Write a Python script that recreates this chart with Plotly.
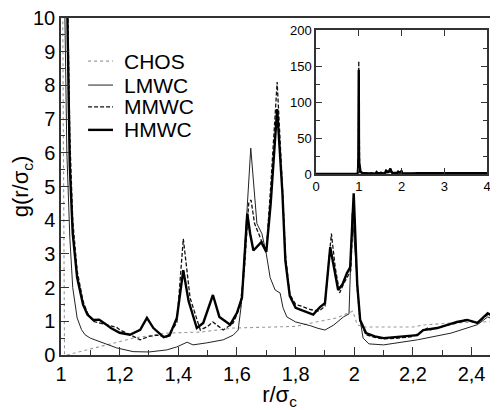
import plotly.graph_objects as go

# ── data ─────────────────────────────────────────────────────────────────────
hmwc_r = [0.0, 0.97, 0.99, 1.0, 1.005, 1.01, 1.02, 1.03, 1.04, 1.055, 1.075, 1.09,
          1.11, 1.13, 1.15, 1.17, 1.2, 1.235, 1.27, 1.293, 1.315, 1.35, 1.37, 1.395,
          1.417, 1.435, 1.463, 1.485, 1.518, 1.54, 1.577, 1.6, 1.617, 1.635, 1.645,
          1.656, 1.683, 1.70, 1.715, 1.737, 1.755, 1.765, 1.78, 1.8, 1.82, 1.86,
          1.883, 1.9, 1.918, 1.935, 1.945, 1.96, 1.975, 1.986, 1.998, 2.01, 2.02,
          2.04, 2.07, 2.1, 2.15, 2.215, 2.235, 2.283, 2.35, 2.385, 2.42, 2.455,
          2.5, 2.8, 3.2, 3.6, 4.0]
hmwc_g = [0, 0, 2, 145, 30, 16, 11, 5.6, 3.6, 2.3, 1.5, 1.2,
          1.04, 1.05, 0.93, 0.8, 0.66, 0.6, 0.75, 1.1, 0.8, 0.53, 0.58, 1.1,
          2.52, 1.6, 0.8, 0.95, 1.78, 1.13, 0.9, 1.25, 1.7, 4.2, 3.6,
          3.1, 3.35, 3.06, 4.5, 7.3, 4.8, 2.8, 1.75, 1.4, 1.33, 1.2,
          1.42, 1.54, 3.2, 2.43, 1.93, 2.1, 2.43, 2.6, 4.8, 2.1, 1.04,
          0.65, 0.55, 0.5, 0.53, 0.59, 0.74, 0.8, 0.98, 1.04, 0.95, 1.24,
          1.0, 1.0, 1.0, 1.0, 1.0]

mmwc_r = [0.0, 0.97, 0.99, 1.0, 1.005, 1.01, 1.02, 1.03, 1.04, 1.055, 1.075, 1.09,
          1.11, 1.13, 1.15, 1.17, 1.19, 1.2, 1.23, 1.27, 1.3, 1.327, 1.36, 1.395,
          1.417, 1.44, 1.475, 1.5, 1.518, 1.553, 1.587, 1.61, 1.625, 1.64, 1.648,
          1.66, 1.683, 1.70, 1.715, 1.737, 1.755, 1.765, 1.78, 1.8, 1.82, 1.85,
          1.88, 1.9, 1.91, 1.922, 1.935, 1.95, 1.963, 1.977, 1.988, 1.998, 2.01,
          2.02, 2.04, 2.07, 2.1, 2.15, 2.2, 2.25, 2.26, 2.3, 2.35, 2.38, 2.42,
          2.455, 2.5, 2.8, 3.2, 3.6, 4.0]
mmwc_g = [0, 0, 0, 157, 35, 18, 12, 6.5, 4.0, 2.5, 1.6, 1.25,
          1.0, 0.95, 0.9, 0.85, 0.82, 0.75, 0.62, 0.45, 0.55, 0.59, 0.53, 0.95,
          3.45, 1.7, 0.74, 0.85, 0.98, 0.74, 0.95, 1.42, 2.5, 4.5, 4.6,
          3.9, 3.4, 3.1, 5.0, 8.1, 5.0, 3.0, 1.8, 1.5, 1.45, 1.35,
          1.3, 1.45, 2.5, 3.6, 2.6, 1.84, 2.1, 2.3, 2.5, 4.7, 2.0,
          1.0, 0.6, 0.52, 0.48, 0.5, 0.55, 0.8, 0.75, 0.85, 0.95, 1.05, 0.95,
          1.2, 1.0, 1.0, 1.0, 1.0, 1.0]

lmwc_r = [0.0, 0.96, 0.98, 0.99, 1.0, 1.005, 1.01, 1.02, 1.03, 1.04, 1.055, 1.07,
          1.082, 1.1, 1.133, 1.19, 1.246, 1.3, 1.36, 1.395, 1.43, 1.45, 1.497,
          1.553, 1.587, 1.604, 1.615, 1.628, 1.647, 1.668, 1.685, 1.70, 1.713,
          1.73, 1.747, 1.757, 1.77, 1.8, 1.815, 1.85, 1.873, 1.9, 1.93, 1.963,
          1.982, 1.993, 2.01, 2.02, 2.03, 2.05, 2.1, 2.215, 2.33, 2.42, 2.455,
          2.49, 2.8, 3.2, 3.6, 4.0]
lmwc_g = [0, 0, 20, 5, 57, 20, 12, 6, 3.5, 2.0, 1.1, 0.75,
          0.6, 0.5, 0.39, 0.21, 0.1, 0.09, 0.15, 0.24, 0.38, 0.3, 0.36,
          0.45, 0.59, 0.74, 1.5, 3.5, 6.14, 3.9, 3.6, 3.0, 2.3,
          1.93, 1.84, 1.4, 1.13, 0.98, 0.95, 0.87, 0.8, 0.74, 0.89, 1.13,
          1.22, 4.2, 2.2, 1.04, 0.5, 0.33, 0.3, 0.45, 0.65, 0.9, 1.13,
          0.98, 1.0, 1.0, 1.0, 1.0]

chos_r = [0.0, 0.96, 1.0, 1.006, 1.012, 1.02, 1.133, 1.246, 1.36, 1.475, 1.587,
          1.7, 1.8, 1.87, 1.94, 1.98, 1.995, 2.01, 2.03, 2.2, 2.235, 2.33, 2.44,
          2.5, 2.8, 3.2, 3.6, 4.0]
chos_g = [0, 0, 20, 11, 0.0, 0.0, 0.24, 0.5, 0.65, 0.68, 0.8,
          0.83, 0.85, 0.98, 1.1, 1.25, 1.3, 0.9, 0.83, 0.83, 0.89, 0.95, 0.98,
          1.0, 1.0, 1.0, 1.0, 1.0]

names = ["CHOS", "LMWC", "MMWC", "HMWC"]
series_r = [chos_r, lmwc_r, mmwc_r, hmwc_r]
series_g = [chos_g, lmwc_g, mmwc_g, hmwc_g]
styles = [dict(color="#9a9a9a", width=1.1, dash="dot"),
          dict(color="#222222", width=1.0, dash="solid"),
          dict(color="#111111", width=1.3, dash="4px,2px"),
          dict(color="#000000", width=2.4, dash="solid")]

inset_ticks = [0, 1, 2, 3, 4]

FONT = "Liberation Sans, Arial, sans-serif"

fig = go.Figure()
for name, r, g, st in zip(names, series_r, series_g, styles):
    # main panel
    fig.add_trace(go.Scatter(x=r, y=g, mode="lines", name=name, line=st,
                             xaxis="x", yaxis="y", showlegend=False))
    # inset
    fig.add_trace(go.Scatter(x=r, y=g, mode="lines", name=name, line=st,
                             xaxis="x2", yaxis="y2", showlegend=False))

axis_common = dict(showline=True, linecolor="#333", linewidth=1.5,
                   ticks="inside", tickcolor="#333", showgrid=False,
                   zeroline=False, automargin=False, ticklabeloverflow="allow")

# the page body adds an 8px offset, so the figure is 8px smaller than the window
fig.update_layout(
    width=490, height=402,
    margin=dict(l=53, r=0, t=10, b=55),
    paper_bgcolor="white", plot_bgcolor="white",
    template="none",
    separators=", ",
    font=dict(family=FONT, color="black"),
    xaxis=dict(range=[1, 2.49], tick0=1, dtick=0.2, ticklen=8, tickwidth=1.2,
               minor=dict(dtick=0.1, ticklen=5, ticks="inside", tickcolor="#333"),
               mirror=True, tickfont=dict(size=20),
               title=dict(text="r/σ<sub>c</sub>", font=dict(size=22), standoff=2),
               **axis_common),
    yaxis=dict(range=[0, 10], tick0=0, dtick=1, ticklen=8, tickwidth=1.2,
               minor=dict(dtick=0.5, ticklen=4, ticks="inside", tickcolor="#333"),
               mirror="ticks", tickfont=dict(size=20),
               title=dict(text="g(r/σ<sub>c</sub>)", font=dict(size=22), standoff=4),
               **axis_common),
    xaxis2=dict(domain=[0.5835, 0.975], anchor="y2", range=[0, 4.0005],
                tickmode="array", tickvals=inset_ticks,
                ticklen=6, mirror="ticks", tickfont=dict(size=13), **axis_common),
    yaxis2=dict(domain=[0.537, 0.964], anchor="x2", range=[0, 200], dtick=50,
                ticklen=6, minor=dict(dtick=25, ticklen=4, ticks="inside", tickcolor="#333"),
                mirror="ticks", tickfont=dict(size=13), **axis_common),
)

# hand-drawn legend in the upper left
leg_y = [0.872, 0.801, 0.736, 0.668]
for name, st, yy in zip(names, styles, leg_y):
    fig.add_shape(type="line", xref="paper", yref="paper", x0=0.062, x1=0.119,
                  y0=yy, y1=yy, line=st)
    fig.add_annotation(x=0.1396, y=yy, xref="paper", yref="paper", text=name,
                       showarrow=False, xanchor="left", yanchor="middle",
                       font=dict(size=21, family=FONT, color="black"))

fig.write_html("out.html")
